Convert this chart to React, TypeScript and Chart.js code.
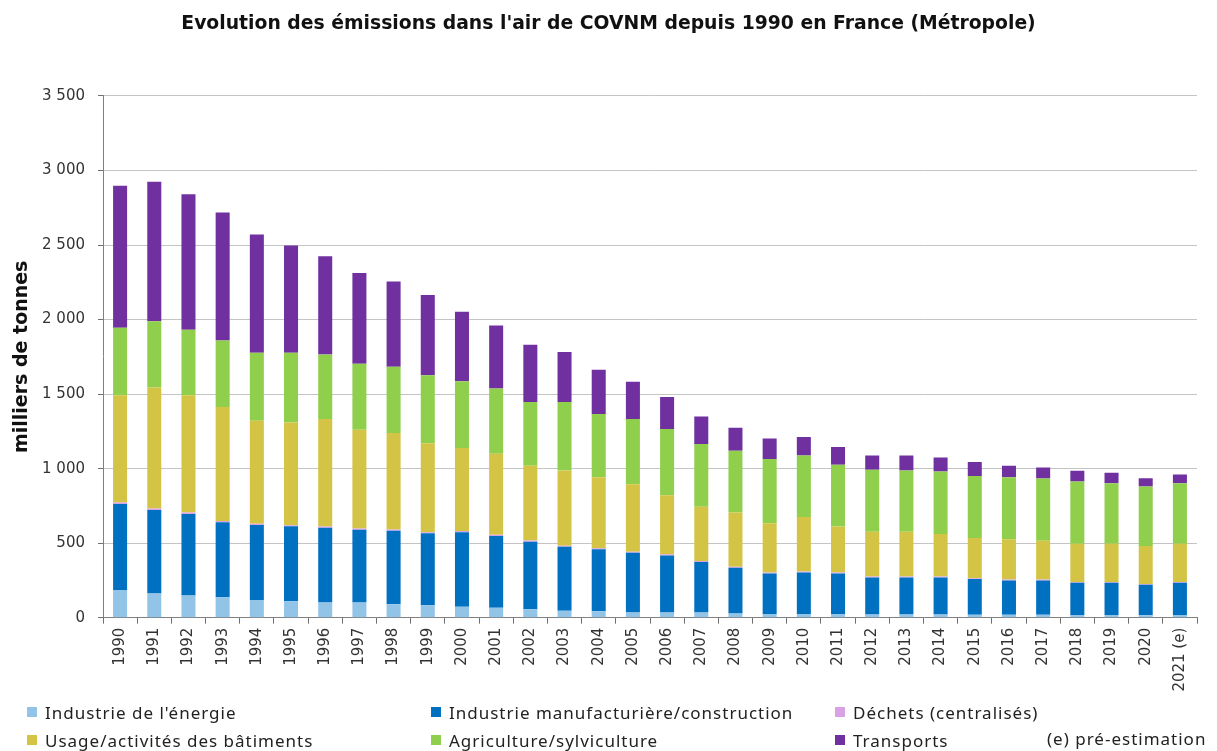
import React, { useEffect, useRef } from "react";
import { Chart, registerables } from "chart.js";

Chart.register(...registerables);

const TITLE = "Evolution des émissions dans l'air de COVNM depuis 1990 en France (Métropole)";
const Y_TITLE = "milliers de tonnes";
const NOTE = "(e) pré-estimation";

const years = [
  "1990", "1991", "1992", "1993", "1994", "1995", "1996", "1997", "1998", "1999",
  "2000", "2001", "2002", "2003", "2004", "2005", "2006", "2007", "2008", "2009",
  "2010", "2011", "2012", "2013", "2014", "2015", "2016", "2017", "2018", "2019",
  "2020", "2021 (e)",
];

const energie = [185, 163, 149, 138, 118, 111, 102, 102, 91, 84, 73, 66, 57, 46, 44, 35, 35, 35, 28, 24, 24, 24, 22, 22, 22, 20, 20, 20, 18, 18, 17, 18];
const manufacturiere = [578, 560, 547, 502, 504, 502, 501, 488, 493, 482, 500, 482, 453, 430, 415, 401, 383, 338, 307, 273, 280, 273, 248, 248, 248, 239, 230, 230, 216, 216, 204, 216];
const dechets = [9, 9, 9, 9, 9, 8, 8, 8, 8, 8, 8, 8, 8, 7, 7, 7, 7, 7, 7, 6, 6, 6, 6, 6, 6, 6, 6, 6, 5, 5, 5, 5];
const batiments = [720, 813, 787, 765, 690, 689, 722, 663, 647, 597, 557, 544, 501, 504, 477, 453, 397, 365, 363, 330, 366, 308, 301, 301, 286, 270, 270, 260, 257, 257, 255, 257];
const agriculture = [453, 444, 439, 445, 456, 467, 432, 442, 444, 455, 448, 437, 428, 460, 424, 437, 444, 420, 415, 431, 412, 415, 415, 410, 418, 415, 417, 417, 417, 406, 399, 406];
const transports = [952, 935, 910, 859, 793, 719, 659, 609, 573, 538, 466, 423, 384, 336, 297, 249, 215, 185, 154, 138, 124, 119, 96, 101, 95, 94, 76, 74, 72, 70, 56, 58];

const seriesNames = [
  "Industrie de l'énergie",
  "Industrie manufacturière/construction",
  "Déchets (centralisés)",
  "Usage/activités des bâtiments",
  "Agriculture/sylviculture",
  "Transports",
];
const seriesColors = ["#92c4e8", "#0070c0", "#d9a2e6", "#d4c445", "#8fcf4c", "#7030a0"];
const seriesData = [energie, manufacturiere, dechets, batiments, agriculture, transports];

// legend layout: order of items per row
const legendRows = [
  [0, 1, 2],
  [3, 4, 5],
];
const legendCols = [27, 431, 835];
const legendRowY = [712, 740];

const fmt = (v: number) => {
  if (v >= 1000) {
    const th = Math.floor(v / 1000);
    const rest = String(v % 1000).padStart(3, "0");
    return `${th} ${rest}`;
  }
  return String(v);
};

export default function App() {
  const ref = useRef<HTMLCanvasElement>(null);

  useEffect(() => {
    if (!ref.current) return;
    const chart = new Chart(ref.current, {
      type: "bar",
      data: {
        labels: years,
        datasets: seriesData.map((d, i) => ({
          label: seriesNames[i],
          data: d,
          backgroundColor: seriesColors[i],
          borderWidth: 0,
          barPercentage: 0.41,
          categoryPercentage: 1.0,
        })),
      },
      options: {
        responsive: false,
        animation: false,
        layout: { padding: { left: 20, right: 20, top: 0, bottom: 0 } },
        plugins: {
          legend: { display: false },
          tooltip: { enabled: false },
          title: {
            display: true,
            text: TITLE,
            color: "#111111",
            font: { family: "DejaVu Sans", size: 18.8, weight: "bold" },
            padding: { top: 12.7, bottom: 60.7 },
          },
        },
        scales: {
          x: {
            stacked: true,
            grid: {
              drawOnChartArea: false,
              drawTicks: true,
              tickLength: 6,
              color: "#707070",
              tickColor: "#707070",
              offset: true,
            },
            border: { color: "#808080", width: 1 },
            ticks: {
              autoSkip: false,
              minRotation: 90,
              maxRotation: 90,
              padding: 4,
              color: "#333333",
              font: { family: "DejaVu Sans", size: 15 },
            },
            afterFit: (s: any) => {
              s.height = 133.3;
            },
          },
          y: {
            stacked: true,
            min: 0,
            max: 3500,
            ticks: {
              stepSize: 500,
              padding: 13,
              color: "#333333",
              font: { family: "DejaVu Sans", size: 15 },
              callback: (v: any) => fmt(Number(v)),
            },
            grid: {
              color: "#c4c4c4",
              tickColor: "#707070",
              tickLength: 5,
              lineWidth: 1,
            },
            border: { color: "#808080", width: 1 },
            title: {
              display: true,
              text: Y_TITLE,
              color: "#111111",
              font: { family: "DejaVu Sans", size: 19, weight: "bold" },
              padding: { top: -9.4, bottom: 0 },
            },
            afterFit: (s: any) => {
              s.width = 83;
            },
          },
        },
      },
    });
    return () => chart.destroy();
  }, []);

  const legendFont = {
    fontFamily: "'Noto Sans', 'DejaVu Sans', sans-serif",
    fontSize: 17,
    letterSpacing: "1px",
    color: "#222222",
  };

  return (
    <div style={{ position: "fixed", left: 0, top: 0, width: 1217, height: 751, background: "#ffffff", overflow: "hidden" }}>
      <canvas ref={ref} width={1217} height={751} style={{ position: "absolute", left: 0, top: 0, width: 1217, height: 751 }} />
      {legendRows.map((row, r) =>
        row.map((idx, c) => (
          <div
            key={`${r}-${c}`}
            style={{
              position: "absolute",
              left: legendCols[c],
              top: legendRowY[r] - 12,
              height: 24,
              display: "flex",
              alignItems: "center",
              whiteSpace: "nowrap",
              ...legendFont,
            }}
          >
            <span style={{ display: "inline-block", width: 10, height: 10, background: seriesColors[idx], marginRight: 8 }} />
            <span>{seriesNames[idx]}</span>
          </div>
        ))
      )}
      <div
        style={{
          position: "absolute",
          left: 1047,
          top: 738 - 12,
          height: 24,
          display: "flex",
          alignItems: "center",
          whiteSpace: "nowrap",
          ...legendFont,
        }}
      >
        {NOTE}
      </div>
    </div>
  );
}
